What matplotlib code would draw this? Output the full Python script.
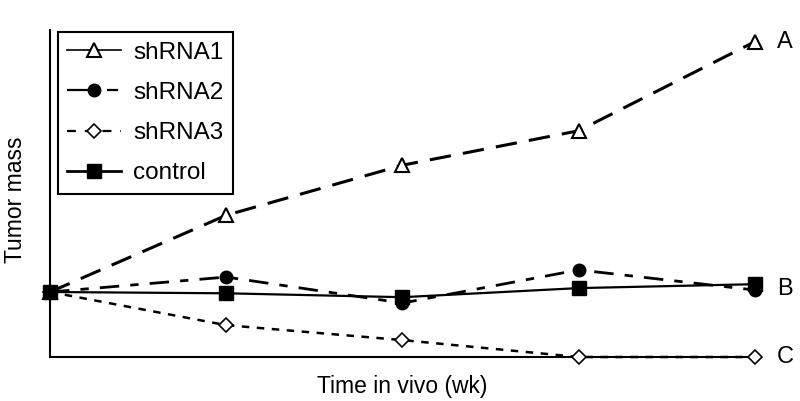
import matplotlib.pyplot as plt
from matplotlib.lines import Line2D

weeks = [0, 1, 2, 3, 4]
shrna1 = [1.0, 2.18, 2.95, 3.48, 4.85]
shrna2 = [1.0, 1.23, 0.83, 1.34, 1.03]
shrna3 = [1.0, 0.49, 0.26, 0.0, 0.0]
control = [1.0, 0.98, 0.92, 1.06, 1.12]
series_names = ['shRNA1', 'shRNA2', 'shRNA3', 'control']
end_labels = ['A', 'B', 'C']
end_values = [4.85, 1.05, 0.0]

plt.rcParams['font.family'] = ['Liberation Sans', 'DejaVu Sans']

fig = plt.figure(figsize=(8, 4.01), dpi=100)
ax = fig.add_axes([0.0625, 0.1097, 0.881, 0.8155])

ax.plot(weeks, shrna3, color='black', lw=1.8, dashes=(3, 3), marker='D', ms=7,
        mfc='white', mew=1.2, clip_on=False, zorder=3)
ax.plot(weeks, shrna2, color='black', lw=2, dashes=(7, 4, 3, 4), marker='o', ms=9,
        clip_on=False, zorder=3)
ax.plot(weeks, shrna1, color='black', lw=2.2, dashes=(7, 4), marker='^', ms=10,
        mfc='white', mew=1.5, clip_on=False, zorder=3)
ax.plot(weeks, control, color='black', lw=1.6, marker='s', ms=10,
        clip_on=False, zorder=4)

for lab, val in zip(end_labels, end_values):
    ax.text(4.125, val, lab, fontsize=17, va='center', ha='left')

ax.set_xlim(0, 4)
ax.set_ylim(0, 5.03)
ax.set_xticks([])
ax.set_yticks([])
ax.spines['top'].set_visible(False)
ax.spines['right'].set_visible(False)
ax.spines['left'].set_linewidth(1.5)
ax.spines['bottom'].set_linewidth(1.5)

ax.set_xlabel('Time in vivo (wk)', fontsize=16.5, labelpad=13)
ax.set_ylabel('Tumor mass', fontsize=16.5)
ax.yaxis.set_label_coords(-0.032, 0.48)

# legend keys drawn as in the original figure
handles = [
    Line2D([], [], color='black', lw=1.2, marker='^', ms=10, mfc='white', mew=1.5),
    Line2D([], [], color='black', lw=1.6, dashes=(14, 4, 5, 4), marker='o', ms=9),
    Line2D([], [], color='black', lw=1.6, dashes=(4, 4), marker='D', ms=7, mfc='white', mew=1.2),
    Line2D([], [], color='black', lw=2, marker='s', ms=10),
]
leg = ax.legend(handles, series_names, loc='upper left',
                bbox_to_anchor=(0.011, 0.994), borderaxespad=0,
                fontsize=17.5, fancybox=False, edgecolor='black', framealpha=1,
                handlelength=2.2, labelspacing=0.75, handletextpad=0.5,
                borderpad=0.4)
leg.get_frame().set_linewidth(1.5)

fig.savefig('out.png', dpi=100)
